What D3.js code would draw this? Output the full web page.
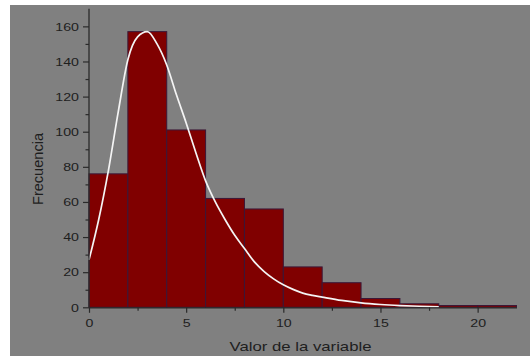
<!DOCTYPE html>
<html>
<head>
<meta charset="utf-8">
<script src="https://cdn.jsdelivr.net/npm/d3@7"></script>
<style>
  html, body { margin: 0; padding: 0; background: #fff; }
  svg { display: block; }
  text { font-family: "Liberation Sans", Arial, sans-serif; fill: #1e1e1e; }
</style>
</head>
<body>
<script>
// Histogram bins (lower edge, width 2) and their counts
const binStarts = [0, 2, 4, 6, 8, 10, 12, 14, 16, 18, 20];
const binWidth = 2;
const counts = [76, 157, 101, 62, 56, 23, 14, 5, 2, 1, 1];

// Fitted density curve, scaled to frequency
const curveX = [0, 0.5, 1, 1.5, 2, 2.5, 3, 3.5, 4, 4.5, 5, 5.5, 6, 6.5, 7, 7.5, 8, 8.5, 9, 9.5, 10, 10.5, 11, 11.5, 12, 13, 14, 15, 16, 17, 18];
const curveY = [27, 50, 78, 111, 141, 154, 157, 150, 138, 121, 105, 88, 72, 60, 50, 41, 33.5, 26, 20.5, 16.2, 12.8, 10.2, 8.1, 6.8, 5.8, 3.9, 2.5, 1.6, 1, 0.6, 0.3];

// Axis ticks
const xMajor = [0, 5, 10, 15, 20];
const xMinor = [2.5, 7.5, 12.5, 17.5];
const yMajor = [0, 20, 40, 60, 80, 100, 120, 140, 160];
const yMinor = [10, 30, 50, 70, 90, 110, 130, 150];

const xLabel = "Valor de la variable";
const yLabel = "Frecuencia";

const W = 530, H = 356;
const svg = d3.select("body").append("svg").attr("width", W).attr("height", H);

// grey plotting panel
svg.append("rect").attr("x", 10).attr("y", 5).attr("width", W - 10).attr("height", H - 5).attr("fill", "#808080");

const x = d3.scaleLinear().domain([0, 22]).range([89, 516.5]);
const y = d3.scaleLinear().domain([0, 170]).range([307.3, 8.8]);

// bars
svg.append("g").selectAll("rect")
  .data(binStarts.map((s, i) => ({ s, c: counts[i] })))
  .join("rect")
  .attr("x", d => x(d.s))
  .attr("y", d => y(d.c))
  .attr("width", d => x(d.s + binWidth) - x(d.s))
  .attr("height", d => y(0) - y(d.c))
  .attr("fill", "#800000")
  .attr("stroke", "#3a1838")
  .attr("stroke-width", 1);

// density curve
const line = d3.line()
  .x((d, i) => x(curveX[i]))
  .y(d => y(d))
  .curve(d3.curveMonotoneX);
svg.append("path")
  .attr("d", line(curveY))
  .attr("fill", "none")
  .attr("stroke", "#f4f4f4")
  .attr("stroke-width", 1.7);

const axisColor = "#2a2a2a";

// y axis
const gy = svg.append("g").attr("transform", `translate(${x(0)},0)`);
gy.call(d3.axisLeft(y).tickValues(yMajor).tickSize(6).tickSizeOuter(0));
gy.append("g").call(d3.axisLeft(y).tickValues(yMinor).tickSize(3.5).tickFormat(""))
  .select(".domain").remove();
gy.selectAll(".domain").attr("stroke", axisColor).attr("stroke-width", 1.3)
  .attr("d", `M0,${y(0)}V${y(170)}`);
gy.selectAll(".tick line").attr("stroke", axisColor).attr("stroke-width", 1.2);
gy.selectAll(".tick text")
  .attr("x", 0).attr("dy", "0.36em")
  .attr("transform", "translate(-10,0) scale(1.35,1)")
  .attr("font-size", 10.5).attr("text-anchor", "end");

// x axis
const gx = svg.append("g").attr("transform", `translate(0,${y(0)})`);
gx.call(d3.axisBottom(x).tickValues(xMajor).tickSize(5.5).tickSizeOuter(0));
gx.append("g").call(d3.axisBottom(x).tickValues(xMinor).tickSize(3.5).tickFormat(""))
  .select(".domain").remove();
gx.selectAll(".domain").attr("stroke", axisColor).attr("stroke-width", 1.3);
gx.selectAll(".tick line").attr("stroke", axisColor).attr("stroke-width", 1.2);
gx.selectAll(".tick text")
  .attr("y", 0).attr("dy", 0)
  .attr("transform", "translate(0,19.4) scale(1.35,1)")
  .attr("font-size", 10.5).attr("text-anchor", "middle");

// axis titles
svg.append("text")
  .attr("x", 300.5).attr("y", 351)
  .attr("text-anchor", "middle")
  .attr("font-size", 13.5)
  .attr("textLength", 142).attr("lengthAdjust", "spacingAndGlyphs")
  .text(xLabel);

svg.append("text")
  .attr("transform", "translate(43,169) rotate(-90)")
  .attr("text-anchor", "middle")
  .attr("font-size", 14)
  .attr("textLength", 72).attr("lengthAdjust", "spacingAndGlyphs")
  .text(yLabel);
</script>
</body>
</html>
